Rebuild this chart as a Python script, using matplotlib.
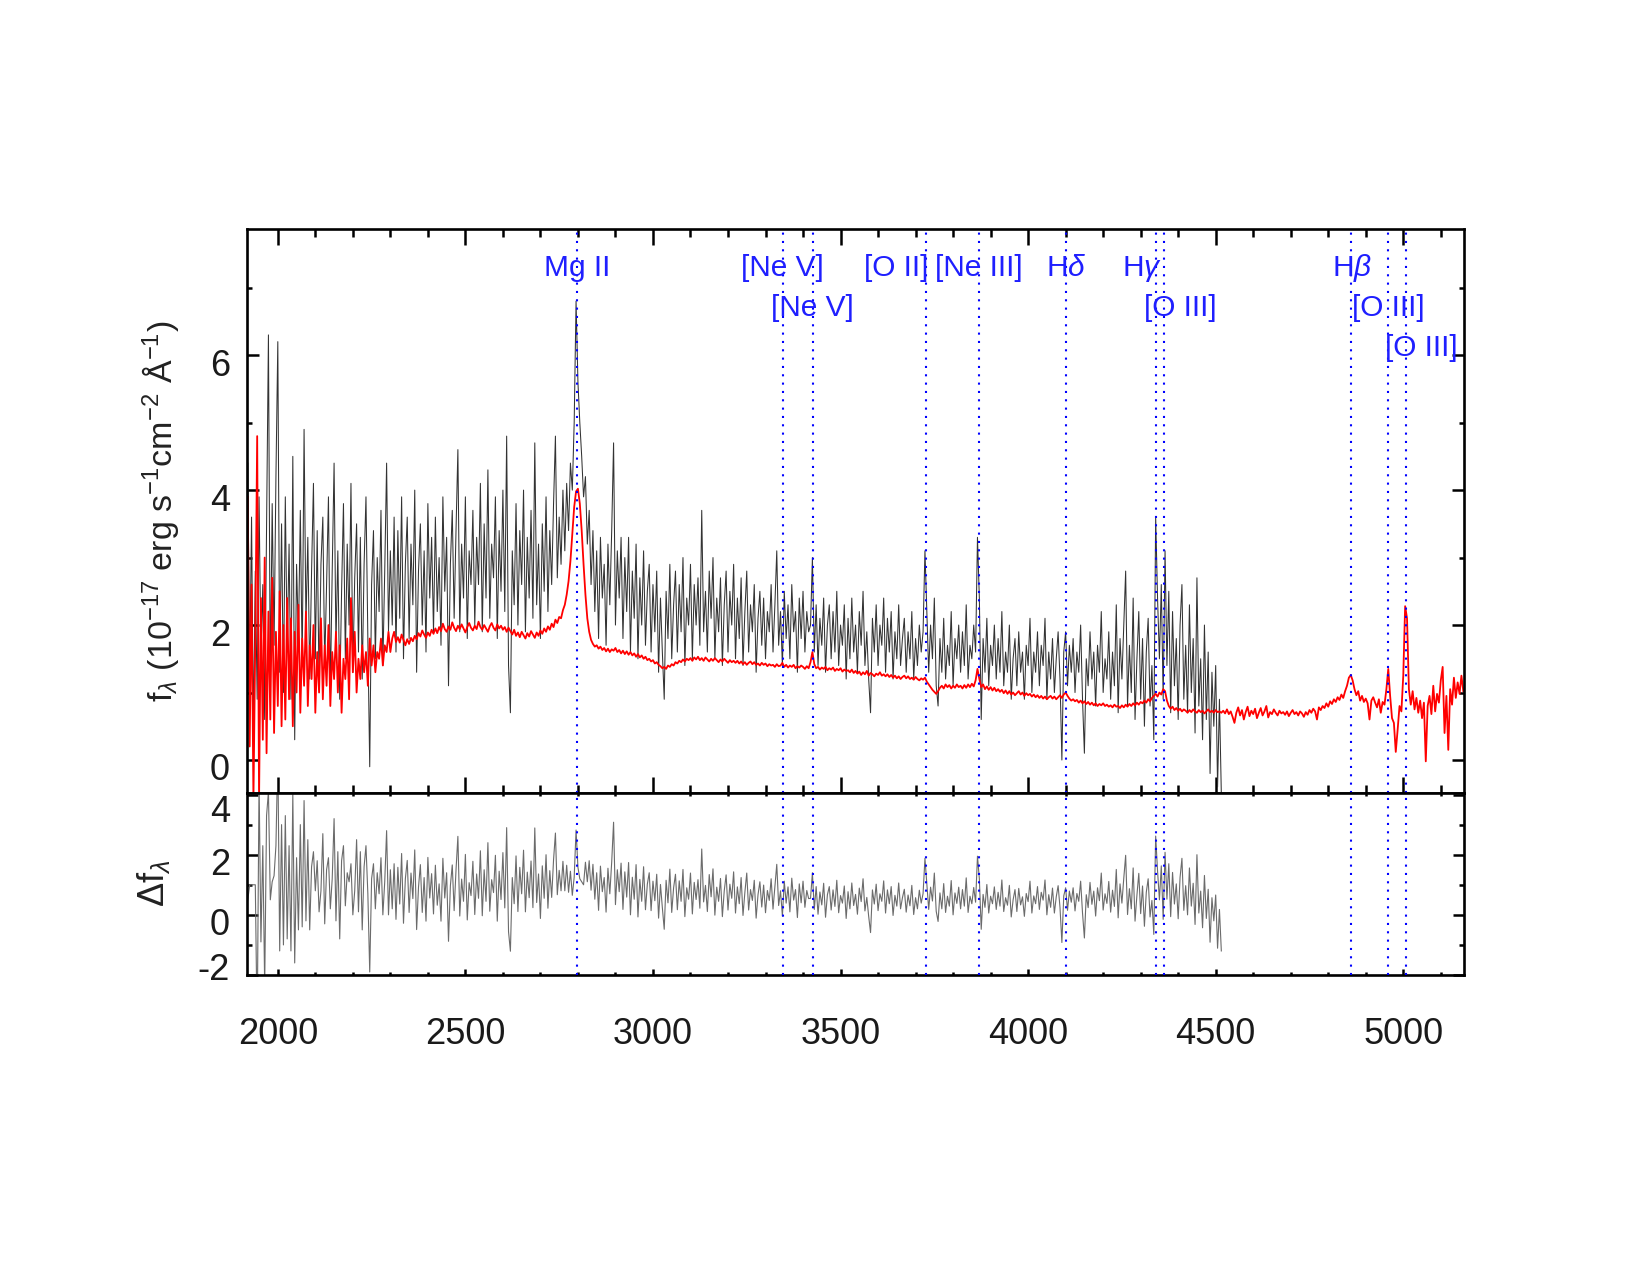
import numpy as np
import matplotlib
matplotlib.use("Agg")
import matplotlib.pyplot as plt
import matplotlib.transforms as mtransforms
from matplotlib.ticker import MultipleLocator

# rest-frame wavelength grid shared by both spectra (Angstrom)
lam_start = 1920
lam_step = 5

# observed spectrum, 1920-4515 A (one row = 100 A)
f_obs = [
    4.4, 1.2, 3.6, 0.4, 2.8, 0.9, 3.9, 1.5, 2.6, 0.6, 3.4, 6.3, 1.1, 3.8, 1.7, 4.2, 6.2, 1.3, 3.5, 1.0,
    3.9, 1.6, 3.2, 0.9, 4.5, 0.3, 2.9, 1.8, 3.7, 1.4, 4.9, 2.0, 3.3, 1.2, 2.8, 4.1, 1.5, 3.4, 1.1, 2.9,
    3.6, 1.4, 2.6, 3.9, 1.0, 2.8, 4.4, 1.7, 3.1, 0.9, 2.5, 3.8, 1.5, 3.2, 2.0, 4.1, 1.3, 2.7, 3.5, 1.6,
    3.3, 1.2, 2.9, 3.9, 1.8, -0.1, 2.6, 3.4, 1.5, 3.0, 2.2, 3.7, 1.4, 2.8, 4.4, 1.9, 3.1, 2.0, 3.6, 1.6,
    3.4, 2.1, 3.9, 1.5, 2.9, 3.6, 1.8, 3.2, 2.3, 4.0, 1.3, 2.8, 3.5, 2.0, 3.1, 1.6, 3.8, 2.4, 3.3, 1.9,
    3.6, 2.2, 3.0, 1.7, 3.9, 2.5, 3.3, 1.1, 2.9, 3.7, 2.1, 3.4, 4.6, 1.9, 3.2, 2.4, 3.9, 1.8, 3.1, 2.6,
    3.7, 2.0, 3.3, 2.6, 4.1, 1.9, 3.5, 2.4, 4.3, 2.1, 3.2, 2.7, 3.9, 1.8, 3.4, 2.5, 4.0, 2.2, 4.8, 1.4,
    0.7, 3.1, 2.3, 3.8, 2.0, 3.4, 2.6, 4.0, 1.9, 3.3, 2.4, 3.7, 2.1, 4.7, 2.3, 3.2, 1.8, 3.5, 2.5, 3.9,
    2.2, 3.4, 2.6, 3.8, 4.8, 2.7, 3.6, 2.9, 4.0, 3.1, 4.1, 3.4, 4.4, 4.0, 5.0, 6.8, 5.6, 5.0, 4.5, 3.9,
    4.2, 3.2, 3.7, 2.6, 3.4, 2.2, 3.1, 1.8, 3.3, 2.4, 2.9, 1.7, 3.2, 2.3, 3.4, 4.7, 2.0, 3.1, 2.4, 3.3,
    1.8, 3.0, 2.2, 3.3, 1.6, 2.8, 2.1, 3.2, 1.5, 2.7, 2.0, 3.1, 1.7, 2.5, 2.9, 1.6, 2.6, 1.9, 2.8, 1.3,
    2.4, 1.6, 0.9, 2.5, 1.8, 2.9, 1.5, 2.3, 2.8, 1.6, 2.6, 1.9, 3.0, 1.4, 2.4, 2.0, 2.9, 1.5, 2.6, 2.0,
    2.7, 1.7, 3.7, 1.9, 2.5, 1.6, 2.8, 2.1, 3.0, 1.5, 2.4, 1.9, 2.7, 1.4, 2.3, 2.8, 1.6, 2.5, 2.0, 2.9,
    1.5, 2.4, 1.8, 2.7, 1.4, 2.2, 2.8, 1.6, 2.3, 1.9, 2.6, 1.3, 2.1, 2.5, 1.7, 2.4, 1.5, 2.2, 1.9, 2.6,
    1.6, 2.3, 3.1, 1.7, 2.2, 1.4, 2.5, 1.8, 2.3, 1.5, 2.6, 1.9, 2.2, 1.3, 2.4, 1.8, 2.5, 1.6, 2.2, 1.9,
    2.0, 3.0, 1.6, 2.3, 1.4, 2.1, 1.7, 2.4, 1.3, 2.0, 2.3, 1.5, 2.2, 1.6, 2.5, 1.4, 2.0, 1.7, 2.3, 1.2,
    2.1, 1.5, 2.4, 1.6, 2.0, 1.3, 2.2, 1.7, 2.5, 1.4, 1.9, 1.2, 0.7, 2.1, 1.6, 2.3, 1.4, 2.0, 1.7, 2.4,
    1.3, 2.1, 1.6, 2.2, 1.2, 1.9, 1.5, 2.3, 1.4, 1.8, 2.1, 1.3, 1.9, 1.5, 2.2, 1.2, 1.8, 1.4, 2.0, 1.6,
    1.9, 3.1, 2.2, 1.3, 2.0, 1.5, 2.4, 1.1, 0.8, 1.8, 1.3, 2.1, 1.2, 1.7, 1.4, 2.2, 1.1, 1.8, 1.5, 2.0,
    1.3, 1.9, 1.4, 2.3, 1.2, 1.7, 1.5, 2.0, 1.6, 3.3, 2.4, 0.6, 1.8, 1.3, 2.1, 1.1, 1.7, 1.4, 2.0, 1.2,
    1.8, 1.3, 2.2, 1.1, 1.6, 1.3, 2.0, 0.9, 1.5, 1.8, 1.1, 1.9, 1.3, 1.6, 0.9, 1.7, 1.4, 2.1, 1.0, 1.6,
    1.3, 1.9, 1.1, 1.7, 1.4, 2.1, 0.9, 1.6, 1.2, 1.8, 1.0, 1.5, 1.9, 1.2, 0.0, 1.6, 1.9, 1.1, 1.7, 1.3,
    1.8, 1.0, 1.6, 1.3, 2.0, 0.9, 0.1, 1.5, 1.1, 1.9, 1.2, 1.6, 0.8, 1.7, 1.3, 2.2, 1.0, 1.5, 1.2, 1.9,
    0.9, 1.6, 1.1, 2.3, 0.7, 1.8, 1.2, 2.0, 2.8, 0.8, 1.7, 1.0, 2.4, 0.6, 1.5, 2.2, 0.9, 1.8, 0.5, 1.6,
    2.1, 0.8, 1.4, 0.3, 3.6, 2.4, 1.5, 2.6, 0.9, 3.1, 1.4, 2.5, 0.7, 2.2, 1.1, 1.8, 0.6, 2.0, 2.6, 0.9,
    1.7, 0.7, 2.3, 1.0, 1.8, 0.4, 2.7, 0.8, 1.5, 0.3, 2.0, 0.6, 1.6, -0.2, 1.3, 0.5, 1.4, -0.4, 0.9, -0.5,
]

# composite spectrum, 1920-5160 A
f_model = [
    3.9, 0.2, 2.6, -0.6, 1.8, 4.8, -0.6, 2.4, 0.3, 3.0, 0.1, 2.2, 0.6, 2.7, 0.4, 1.9, 0.8, 2.5, 0.5, 2.0,
    0.6, 2.4, 0.9, 2.1, 0.5, 1.9, 1.0, 2.3, 0.7, 1.8, 1.1, 2.2, 0.8, 1.7, 1.2, 2.0, 0.7, 1.6, 1.0, 2.1,
    0.9, 1.7, 1.1, 2.0, 0.8, 1.6, 1.2, 1.9, 1.0, 1.7, 0.7, 1.5, 1.2, 1.8, 0.9, 2.4, 1.3, 1.9, 1.0, 1.5,
    1.2, 1.7, 1.3, 1.6, 1.1, 1.8, 1.4, 1.7, 1.3, 1.6, 1.5, 1.8, 1.4, 1.7, 1.6, 1.9, 1.6, 1.8, 1.9, 1.75,
    1.82, 1.74, 1.86, 1.78, 1.70, 1.79, 1.72, 1.81, 1.76, 1.84, 1.79, 1.88, 1.83, 1.92, 1.86, 1.81, 1.89, 1.84, 1.93, 1.87,
    1.95, 1.88, 1.97, 1.91, 2.02, 1.94, 1.90, 1.98, 1.93, 2.04, 1.96, 1.91, 1.99, 1.94, 2.01, 1.95, 1.89, 1.97, 2.03, 1.96,
    1.92, 1.99, 1.94, 2.05, 1.97, 1.93, 2.00, 1.95, 1.90, 1.98, 2.03, 1.96, 1.92, 2.01, 1.95, 1.99, 1.93, 1.97, 1.90, 1.96,
    1.91, 1.86, 1.93, 1.84, 1.89, 1.82, 1.90, 1.85, 1.80, 1.88, 1.83, 1.91, 1.86, 1.81, 1.89, 1.84, 1.92, 1.87, 1.95, 1.90,
    1.98, 1.93, 2.02, 1.97, 2.08, 2.03, 2.12, 2.10, 2.22, 2.30, 2.45, 2.65, 2.95, 3.35, 3.75, 3.98, 4.02, 3.80, 3.40, 2.90,
    2.45, 2.10, 1.90, 1.78, 1.72, 1.68, 1.70, 1.65, 1.68, 1.63, 1.66, 1.61, 1.65, 1.60, 1.64, 1.62, 1.66, 1.60, 1.63, 1.58,
    1.62, 1.57, 1.61, 1.56, 1.60, 1.55, 1.58, 1.53, 1.57, 1.52, 1.55, 1.50, 1.53, 1.48, 1.50, 1.46, 1.48, 1.43, 1.45, 1.41,
    1.39, 1.36, 1.38, 1.35, 1.40, 1.38, 1.42, 1.40, 1.45, 1.43, 1.47, 1.45, 1.49, 1.46, 1.50, 1.48, 1.51, 1.47, 1.52, 1.49,
    1.53, 1.48, 1.51, 1.47, 1.52, 1.49, 1.46, 1.50, 1.47, 1.51, 1.48, 1.45, 1.49, 1.46, 1.50, 1.47, 1.44, 1.48, 1.45, 1.47,
    1.44, 1.47, 1.43, 1.46, 1.42, 1.45, 1.41, 1.44, 1.46, 1.42, 1.45, 1.41, 1.43, 1.40, 1.44, 1.41, 1.43, 1.39, 1.42, 1.40,
    1.41, 1.38, 1.42, 1.39, 1.40, 1.44, 1.38, 1.41, 1.37, 1.40, 1.38, 1.41, 1.36, 1.39, 1.37, 1.40, 1.38, 1.35, 1.39, 1.36,
    1.45, 1.60, 1.42, 1.36, 1.38, 1.34, 1.37, 1.35, 1.38, 1.33, 1.36, 1.34, 1.37, 1.32, 1.35, 1.33, 1.36, 1.31, 1.34, 1.32,
    1.33, 1.30, 1.34, 1.29, 1.32, 1.28, 1.31, 1.26, 1.30, 1.27, 1.32, 1.25, 1.29, 1.27, 1.24, 1.28, 1.26, 1.30, 1.25, 1.27,
    1.24, 1.27, 1.23, 1.26, 1.22, 1.25, 1.21, 1.24, 1.20, 1.23, 1.25, 1.21, 1.24, 1.20, 1.22, 1.19, 1.23, 1.20, 1.18, 1.21,
    1.19, 1.22, 1.16, 1.12, 1.08, 1.04, 1.01, 0.98, 1.02, 1.07, 1.10, 1.06, 1.12, 1.08, 1.11, 1.06, 1.10, 1.07, 1.12, 1.08,
    1.10, 1.06, 1.11, 1.07, 1.12, 1.08, 1.13, 1.09, 1.18, 1.35, 1.20, 1.08, 1.12, 1.05, 1.09, 1.04, 1.08, 1.03, 1.07, 1.02,
    1.05, 1.01, 1.04, 0.99, 1.03, 0.98, 1.02, 0.97, 1.00, 0.96, 0.99, 1.02, 0.97, 1.00, 0.95, 0.99, 0.96, 0.98, 0.94, 0.97,
    0.93, 0.96, 0.92, 0.95, 0.91, 0.94, 0.90, 0.93, 0.95, 0.91, 0.94, 0.90, 0.93, 0.96, 0.92, 0.97, 1.00, 0.95, 0.91, 0.88,
    0.90, 0.87, 0.89, 0.85, 0.88, 0.84, 0.87, 0.83, 0.86, 0.82, 0.85, 0.81, 0.84, 0.80, 0.83, 0.81, 0.84, 0.80, 0.82, 0.79,
    0.81, 0.78, 0.82, 0.79, 0.80, 0.77, 0.81, 0.78, 0.82, 0.79, 0.83, 0.80, 0.84, 0.81, 0.85, 0.82, 0.86, 0.84, 0.88, 0.85,
    0.90, 0.87, 0.92, 0.95, 0.98, 0.94, 1.00, 0.97, 1.05, 1.02, 0.88, 0.80, 0.76, 0.79, 0.74, 0.77, 0.73, 0.76, 0.72, 0.75,
    0.73, 0.70, 0.74, 0.71, 0.75, 0.72, 0.70, 0.74, 0.71, 0.73, 0.69, 0.72, 0.75, 0.71, 0.73, 0.70, 0.74, 0.71, 0.72, 0.70,
    0.73, 0.69, 0.75, 0.68, 0.72, 0.64, 0.55, 0.70, 0.78, 0.66, 0.74, 0.60, 0.71, 0.79, 0.65, 0.73, 0.68, 0.76, 0.62, 0.70,
    0.77, 0.66, 0.72, 0.80, 0.63, 0.71, 0.68, 0.75, 0.70, 0.66, 0.73, 0.69, 0.71, 0.67, 0.72, 0.65, 0.70, 0.74, 0.68, 0.71,
    0.66, 0.72, 0.69, 0.64, 0.71, 0.67, 0.74, 0.70, 0.76, 0.72, 0.60, 0.78, 0.74, 0.80, 0.77, 0.84, 0.79, 0.87, 0.83, 0.90,
    0.86, 0.93, 0.89, 0.97, 0.92, 1.02, 1.10, 1.22, 1.26, 1.18, 1.05, 0.96, 1.02, 0.88, 0.95, 0.86, 0.91, 0.84, 0.60, 0.88,
    0.93, 0.85, 0.78, 0.90, 0.70, 0.86, 0.82, 1.05, 1.35, 0.95, 0.62, 0.55, 0.12, 0.45, 0.80, 0.72, 1.25, 2.28, 2.10, 1.05,
    0.82, 1.02, 0.75, 0.92, 0.70, 0.88, 0.62, 0.85, -0.02, 0.80, 0.95, 0.68, 1.10, 0.72, 0.98, 0.85, 1.18, 1.38, 0.40, 0.95,
    0.15, 1.05, 0.82, 1.22, 0.92, 1.15, 0.98, 1.25, 1.02,
]

# emission lines marked on the plot
line_wave = [2798, 3346, 3426, 3727, 3869, 4102, 4340, 4363, 4861, 4959, 5007]
line_name = ['Mg II', '[Ne V]', '[Ne V]', '[O II]', '[Ne III]', r'H$\delta$',
             r'H$\gamma$', '[O III]', r'H$\beta$', '[O III]', '[O III]']

# label layout: text row and small horizontal shift (A) to avoid overlaps
label_row = [0, 0, 1, 0, 0, 0, 0, 1, 0, 1, 2]
label_shift = [0, 0, 0, -80, 0, 0, -37, 43, 3, 0, 40]
row_y = [7.17, 6.58, 5.99]

plt.rcParams['font.family'] = ['Liberation Sans', 'DejaVu Sans']
plt.rcParams['mathtext.fontset'] = 'custom'
plt.rcParams['mathtext.rm'] = 'Liberation Sans'
plt.rcParams['mathtext.it'] = 'Liberation Sans:italic'
plt.rcParams['mathtext.bf'] = 'Liberation Sans:bold'
plt.rcParams['axes.unicode_minus'] = False

obs = np.array(f_obs)
model = np.array(f_model)
lam_model = lam_start + lam_step * np.arange(len(model))
lam_obs = lam_model[:len(obs)]
resid = obs - model[:len(obs)]

fig = plt.figure(figsize=(16.5, 12.75), dpi=100)
ax1 = fig.add_axes([0.1495, 0.378, 0.7378, 0.4424])
ax2 = fig.add_axes([0.1495, 0.2353, 0.7378, 0.1427])

ax1.plot(lam_obs, obs, color='0.2', lw=0.75)
ax1.plot(lam_model, model, color='red', lw=1.3)
ax2.plot(lam_obs, resid, color='0.42', lw=0.8)

for ax in (ax1, ax2):
    for w in line_wave:
        ax.axvline(w, color='blue', lw=1.5, ls=(0, (1, 3)), zorder=5)

for w, name, r, s in zip(line_wave, line_name, label_row, label_shift):
    ax1.text(w + s, row_y[r], name, color='#1f1fff', fontsize=21.5,
             ha='center', va='baseline', zorder=6)

tick_col = '#1a1a1a'
for ax in (ax1, ax2):
    ax.set_xlim(1917, 5162)
    ax.xaxis.set_major_locator(MultipleLocator(500))
    ax.xaxis.set_minor_locator(MultipleLocator(100))
    ax.yaxis.set_minor_locator(MultipleLocator(1))
    for sp in ax.spines.values():
        sp.set_linewidth(1.9)
    ax.tick_params(which='both', direction='in', top=True, right=True,
                   width=1.8, labelsize=26, labelcolor=tick_col)

ax1.set_ylim(-0.49, 7.87)
ax1.yaxis.set_major_locator(MultipleLocator(2))
ax1.tick_params(axis='x', which='major', length=11.5, labelbottom=False)
ax1.tick_params(axis='x', which='minor', length=5.5)
ax1.tick_params(axis='y', which='major', length=8.5, pad=12)
ax1.tick_params(axis='y', which='minor', length=3.7)

ax2.set_ylim(-2.0, 4.05)
ax2.set_yticks([-2, 0, 2, 4])
ax2.tick_params(axis='x', which='major', length=4.5, pad=30)
ax2.tick_params(axis='x', which='minor', length=2.5)
ax2.tick_params(axis='y', which='major', length=8, pad=12)
ax2.tick_params(axis='y', which='minor', length=3.7)
ax2.tick_params(axis='x', top=False)

# y tick labels sit a little below their ticks, edge labels pulled inside
down = mtransforms.ScaledTranslation(0, -7 / 100, fig.dpi_scale_trans)
up = mtransforms.ScaledTranslation(0, 8 / 100, fig.dpi_scale_trans)
for lab in ax1.get_yticklabels():
    lab.set_transform(lab.get_transform() + down)
ylabs = ax2.get_yticklabels()
for lab in ylabs[1:-1]:
    lab.set_transform(lab.get_transform() + down)
ylabs[0].set_transform(ylabs[0].get_transform() + up)
ylabs[-1].set_verticalalignment('top')

fig.text(0.097, 0.599, r'f$_\lambda$ (10$^{-17}$ erg s$^{-1}$cm$^{-2}$ Å$^{-1}$)',
         rotation=90, fontsize=24.5, color='#222222', ha='center', va='center')
fig.text(0.093, 0.307, r'$\Delta$f$_\lambda$', rotation=90, fontsize=26,
         color='#222222', ha='center', va='center')

fig.savefig('out.png', dpi=100)
